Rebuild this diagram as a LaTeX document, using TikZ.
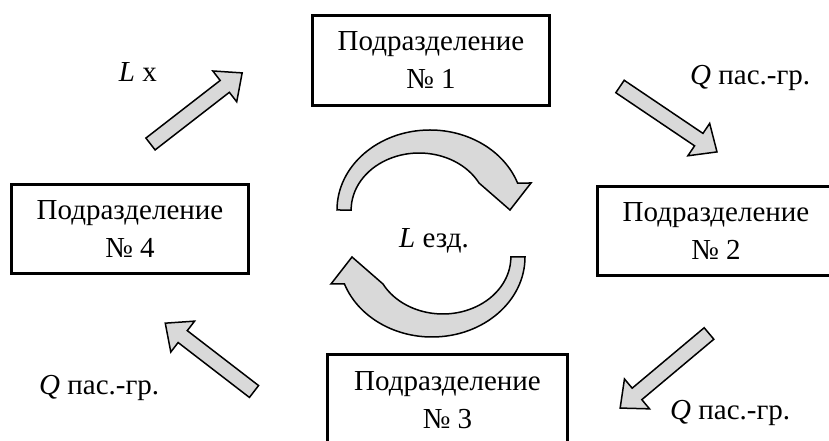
\documentclass[tikz,border=0pt]{standalone}
\usepackage{fontspec}
\setmainfont{Liberation Serif}
\definecolor{arrowgray}{HTML}{D9D9D9}
\tikzset{
  unitbox/.style={draw, line width=3pt, fill=white, align=center,
    font=\fontsize{29pt}{38pt}\selectfont, inner sep=0pt},
  grayarrow/.style={draw, line width=1.5pt, fill=arrowgray, line join=miter},
  lbl/.style={font=\fontsize{29pt}{34pt}\selectfont, inner sep=0pt}
}
\newcommand{\blockarrow}[3]{%
  \begin{scope}[shift={(#1)},rotate=#2]
    \draw[grayarrow] (0,-7.5) -- ({#3-22},-7.5) -- ({#3-22},-19.5) -- (#3,0)
      -- ({#3-22},19.5) -- ({#3-22},7.5) -- (0,7.5) -- cycle;
  \end{scope}}
\begin{document}
\begin{tikzpicture}[x=1pt,y=1pt]
\useasboundingbox (0,0) rectangle (829,441);
\clip (0,0) rectangle (829,441);
% units
\node[unitbox, minimum width=237pt, minimum height=90pt] (u1) at (431,380.5) {Подразделение\\№ 1};
\node[unitbox, minimum width=237pt, minimum height=89pt] (u2) at (716,210) {Подразделение\\№ 2};
\node[unitbox, minimum width=240pt, minimum height=91pt] (u3) at (447.5,41) {Подразделение\\№ 3};
\node[unitbox, minimum width=237pt, minimum height=89pt] (u4) at (130,212) {Подразделение\\№ 4};
% straight block arrows
\blockarrow{150.5,297}{37.8}{116}
\blockarrow{620,354.5}{-34}{117}
\blockarrow{709,107.5}{220}{116}
\blockarrow{254,49.5}{142.4}{112}
% circular arrows
\draw[grayarrow] (337,231) arc[start angle=180, end angle=19.7, x radius=93pt, y radius=80pt]
  -- (531,258) -- (510,231) -- (479,258)
  arc[start angle=28.3, end angle=180, x radius=68pt, y radius=57pt] -- cycle;
\draw[grayarrow] (525,184) arc[start angle=0, end angle=-160.3, x radius=93pt, y radius=80pt]
  -- (331,157) -- (352,184) -- (383,157)
  arc[start angle=-151.7, end angle=0, x radius=68pt, y radius=57pt] -- cycle;
% labels
\node[lbl, anchor=base east] (lx) at (157,359) {\textit{L} x};
\node[lbl, anchor=base west] (q1) at (690,356) {\textit{Q} пас.-гр.};
\node[lbl, anchor=base west] (q3) at (670,21) {\textit{Q} пас.-гр.};
\node[lbl, anchor=base west] (q4) at (39,46) {\textit{Q} пас.-гр.};
\node[lbl, anchor=base] (le) at (434,193) {\textit{L} езд.};
\end{tikzpicture}
\end{document}
